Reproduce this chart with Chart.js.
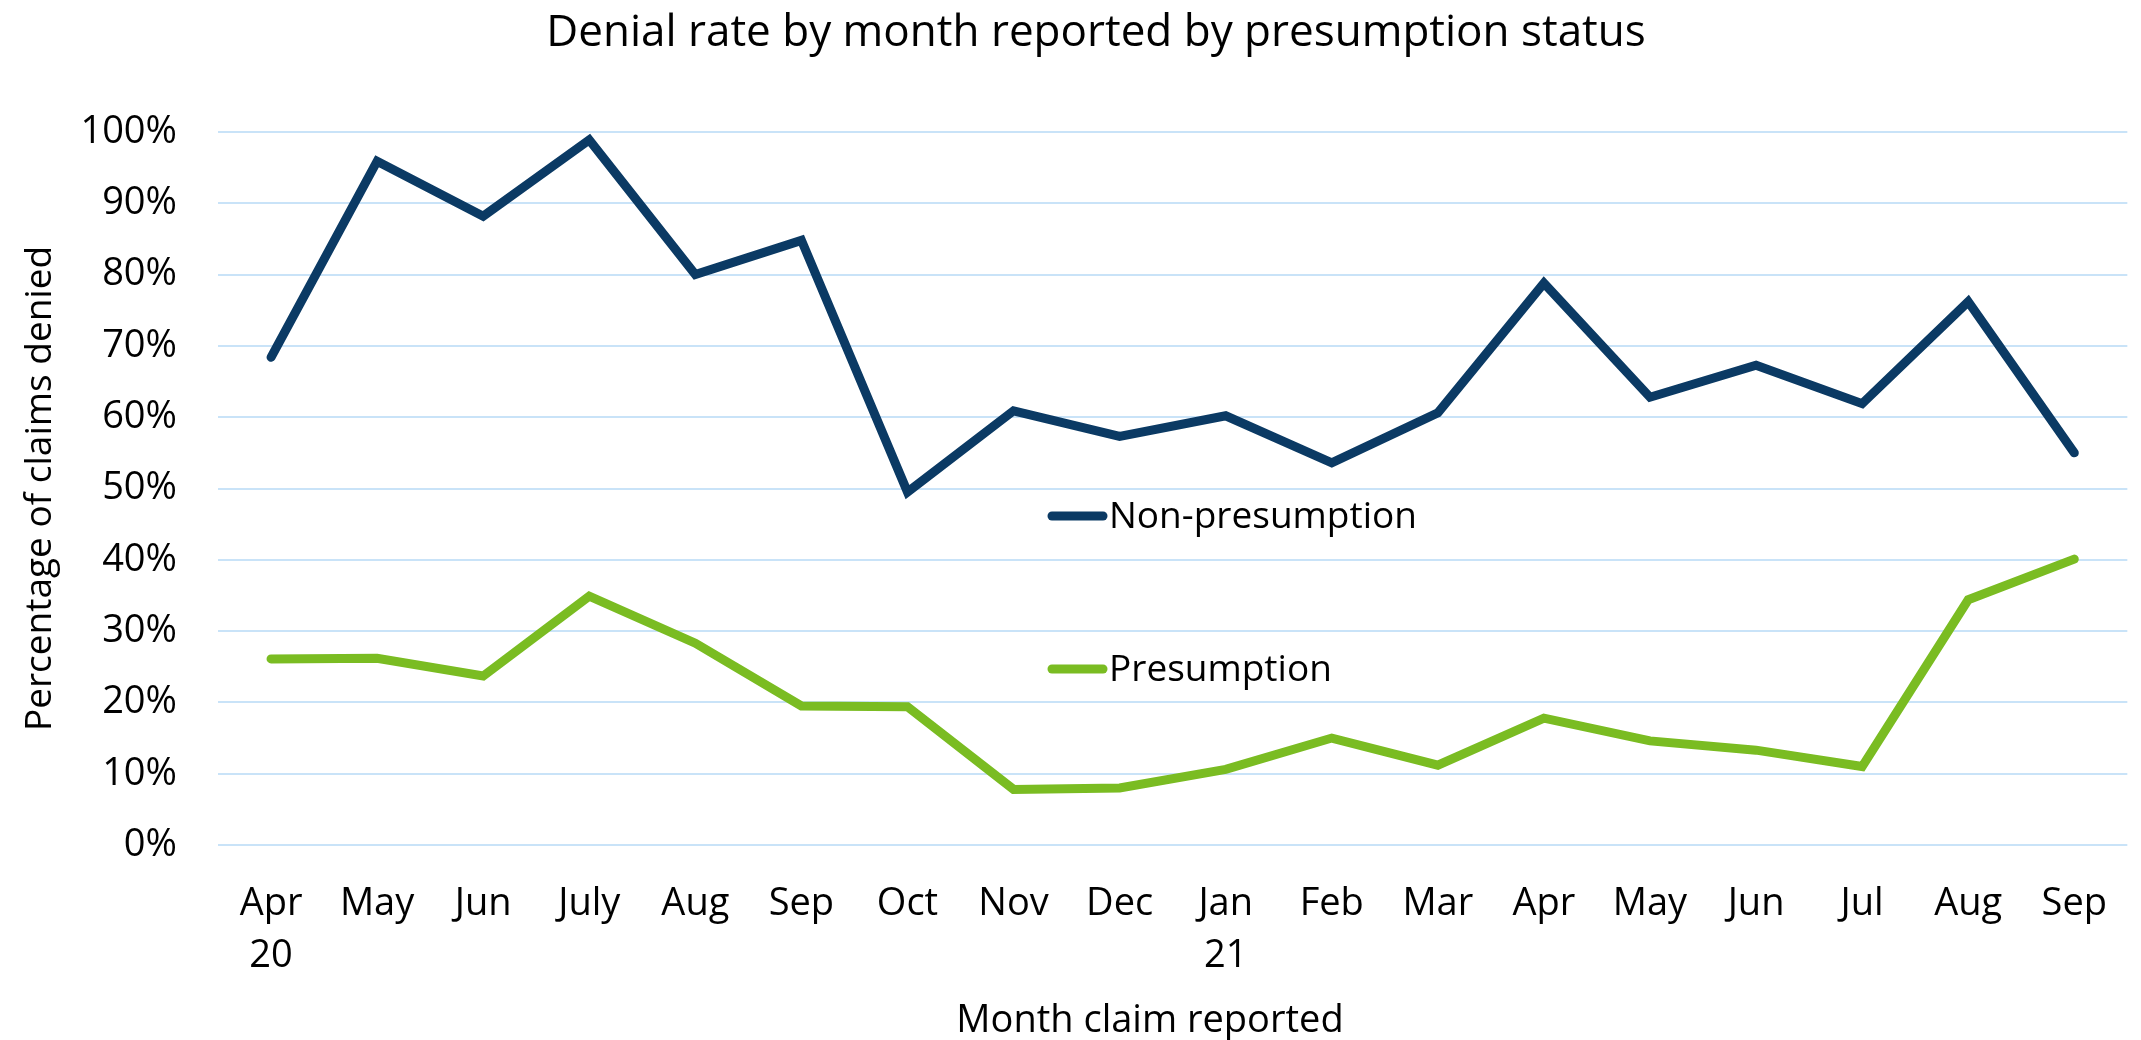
<!DOCTYPE html>
<html>
<head>
<meta charset="utf-8">
<script src="https://cdn.jsdelivr.net/npm/chart.js@4/dist/chart.umd.min.js"></script>
<style>
  body { margin: 0; background: #fff; }
  #wrap { width: 2141px; height: 1040px; }
</style>
</head>
<body>
<div id="wrap"><canvas id="denialChart" width="2141" height="1040"></canvas></div>
<script>
const months = [['Apr', '20'], 'May', 'Jun', 'July', 'Aug', 'Sep', 'Oct', 'Nov', 'Dec',
  ['Jan', '21'], 'Feb', 'Mar', 'Apr', 'May', 'Jun', 'Jul', 'Aug', 'Sep'];
const nonPresumption = [68.4, 95.9, 88.2, 98.9, 80.0, 84.8, 49.5, 60.9, 57.3, 60.2, 53.6, 60.6, 78.8, 62.8, 67.3, 61.9, 76.2, 55.0];
const presumption = [26.1, 26.2, 23.7, 34.9, 28.3, 19.5, 19.4, 7.8, 8.0, 10.6, 15.0, 11.2, 17.8, 14.6, 13.3, 11.0, 34.4, 40.1];
const yTicks = [0, 10, 20, 30, 40, 50, 60, 70, 80, 90, 100];

const FONT = "'Open Sans', 'Noto Sans', sans-serif";
const NAVY = '#0b3a64';
const GREEN = '#7abc22';

// title, x axis title and the in-plot legend are drawn by hand (Excel places them off-centre)
const extras = {
  id: 'extras',
  afterDraw(chart) {
    const ctx = chart.ctx;
    ctx.save();
    ctx.fillStyle = '#000';
    ctx.textBaseline = 'middle';
    ctx.textAlign = 'center';
    ctx.font = '44px ' + FONT;
    ctx.fillText('Denial rate by month reported by presumption status', 1096, 33);
    ctx.font = '38px ' + FONT;
    ctx.fillText('Month claim reported', 1150, 1021);

    const rows = [{ y: 516 }, { y: 669 }];
    ctx.font = '37px ' + FONT;
    chart.data.datasets.forEach((ds, i) => {
      const y = rows[i].y;
      ctx.strokeStyle = ds.borderColor;
      ctx.lineWidth = 9;
      ctx.lineCap = 'round';
      ctx.beginPath();
      ctx.moveTo(1052, y);
      ctx.lineTo(1103, y);
      ctx.stroke();
      ctx.textAlign = 'left';
      ctx.fillStyle = '#000';
      ctx.fillText(ds.label, 1109, y + 1);
    });
    ctx.restore();
  }
};

const ctx = document.getElementById('denialChart').getContext('2d');
const denialChart = new Chart(ctx, {
  type: 'line',
  data: {
    labels: months,
    datasets: [{
      label: 'Non-presumption',
      data: nonPresumption,
      borderColor: NAVY,
      borderWidth: 9,
      pointRadius: 0,
      tension: 0,
      borderCapStyle: 'round'
    }, {
      label: 'Presumption',
      data: presumption,
      borderColor: GREEN,
      borderWidth: 9,
      pointRadius: 0,
      tension: 0,
      borderCapStyle: 'round'
    }]
  },
  options: {
    responsive: false,
    animation: false,
    layout: { padding: { top: 132, left: 0, right: 0, bottom: 0 } },
    plugins: {
      legend: { display: false },
      title: { display: false },
      tooltip: { enabled: false }
    },
    scales: {
      x: {
        offset: true,
        grid: { display: false, drawTicks: false },
        border: { display: false },
        ticks: {
          color: '#000',
          font: { family: FONT, size: 38, lineHeight: 1.35 },
          padding: 34,
          maxRotation: 0,
          autoSkip: false
        },
        afterFit: s => { s.height = 195; }
      },
      y: {
        min: 0,
        max: 100,
        afterBuildTicks: s => { s.ticks = yTicks.map(v => ({ value: v })); },
        grid: { color: '#c9e3f8', lineWidth: 2, drawTicks: false },
        border: { display: false },
        ticks: {
          color: '#000',
          font: { family: FONT, size: 38 },
          padding: 41,
          callback: v => v + '%'
        },
        title: {
          display: true,
          text: 'Percentage of claims denied',
          color: '#000',
          font: { family: FONT, size: 37 },
          padding: { top: 18, bottom: 0 }
        },
        afterFit: s => { s.width = 218; }
      }
    }
  },
  plugins: [extras]
});
</script>
</body>
</html>
